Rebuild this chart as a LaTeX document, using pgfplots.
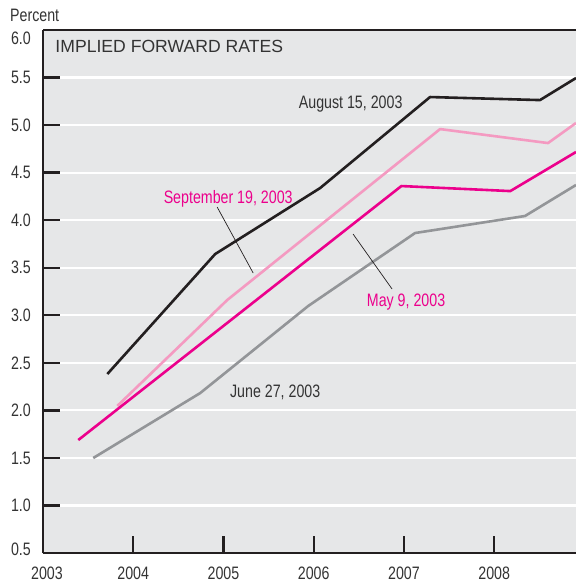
\documentclass[border=0pt]{standalone}
\usepackage{fontspec}
\setmainfont{Liberation Sans}
\newfontfamily\cond{Liberation Sans}[FakeStretch=0.79]
\usepackage{pgfplots}
\pgfplotsset{compat=1.18}

\definecolor{bg}{HTML}{E6E7E8}
\definecolor{ink}{HTML}{231F20}
\definecolor{txt}{HTML}{333333}
\definecolor{sepc}{HTML}{F49AC1}
\definecolor{mayc}{HTML}{EC008C}
\definecolor{junc}{HTML}{939598}

\newcommand{\lab}{\cond\fontsize{18bp}{20bp}\selectfont}

\begin{document}
\begin{tikzpicture}
\useasboundingbox (-43bp,-31bp) rectangle (533bp,553bp);
\begin{axis}[
  scale only axis, width=533bp, height=523bp,
  xmin=2003, xmax=2008.906, ymin=0.5, ymax=6.0,
  axis x line*=bottom, axis y line*=left,
  axis line style={ink, line width=2.4bp},
  axis background/.style={fill=bg},
  clip mode=individual,
  xtick={2003,2004,2005,2006,2007,2008},
  xticklabels={\hspace*{8bp}2003,2004,2005,2006,2007,2008},
  ytick={0.5,1.0,1.5,2.0,2.5,3.0,3.5,4.0,4.5,5.0,5.5,6.0},
  yticklabels={\smash{\raisebox{-2bp}{0.5}},1.0,1.5,2.0,2.5,3.0,3.5,4.0,4.5,5.0,5.5,\smash{\raisebox{-15bp}{6.0}}},
  tick align=inside, major tick length=17bp,
  tick style={ink, line width=2.4bp},
  ymajorgrids, major grid style={white, line width=2.2bp},
  yticklabel style={font=\lab, text=txt, inner sep=0pt, xshift=-12bp},
  xticklabel style={font=\lab, text=txt, inner sep=0pt, anchor=north, yshift=-14bp},
  title={Percent},
  every axis title shift=0pt,
  title style={at={(axis description cs:0,1)}, anchor=base west, inner sep=0pt,
    xshift=-33bp, yshift=8bp, font=\lab, text=txt},
]
% June 27, 2003
\addplot[junc, line width=2.6bp, line join=round] coordinates {
  (2003.557,1.499) (2004.742,2.182) (2005.938,3.097) (2007.123,3.865) (2008.341,4.044) (2008.906,4.370)};
% September 19, 2003
\addplot[sepc, line width=2.6bp, line join=round] coordinates {
  (2003.823,2.046) (2005.041,3.160) (2007.400,4.958) (2008.596,4.811) (2008.906,5.022)};
% May 9, 2003
\addplot[mayc, line width=2.6bp, line join=round] coordinates {
  (2003.391,1.688) (2006.971,4.359) (2008.178,4.306) (2008.906,4.717)};
% August 15, 2003
\addplot[ink, line width=2.6bp, line join=round] coordinates {
  (2003.713,2.382) (2004.908,3.644) (2006.071,4.338) (2007.289,5.295) (2008.507,5.263) (2008.906,5.495)};

\draw[ink, line width=2.4bp] (rel axis cs:0,1) -- (rel axis cs:1,1);
\draw[ink, line width=0.7bp] (axis cs:2004.930,4.138) -- (axis cs:2005.329,3.444);
\draw[ink, line width=0.7bp] (axis cs:2006.436,3.854) -- (axis cs:2006.868,3.276);

\node[anchor=base west, inner sep=0pt, font=\fontsize{17.6bp}{20bp}\selectfont, text=txt]
  at (axis cs:2003.136,5.768) {IMPLIED FORWARD RATES};
\node[anchor=base, inner sep=0pt, font=\lab, text=txt] at (axis cs:2006.409,5.179) {August 15, 2003};
\node[anchor=base, inner sep=0pt, font=\lab, text=mayc] at (axis cs:2005.052,4.180) {September 19, 2003};
\node[anchor=base, inner sep=0pt, font=\lab, text=mayc] at (axis cs:2007.023,3.097) {May 9, 2003};
\node[anchor=base, inner sep=0pt, font=\lab, text=txt] at (axis cs:2005.573,2.140) {June 27, 2003};
\end{axis}
\end{tikzpicture}
\end{document}
